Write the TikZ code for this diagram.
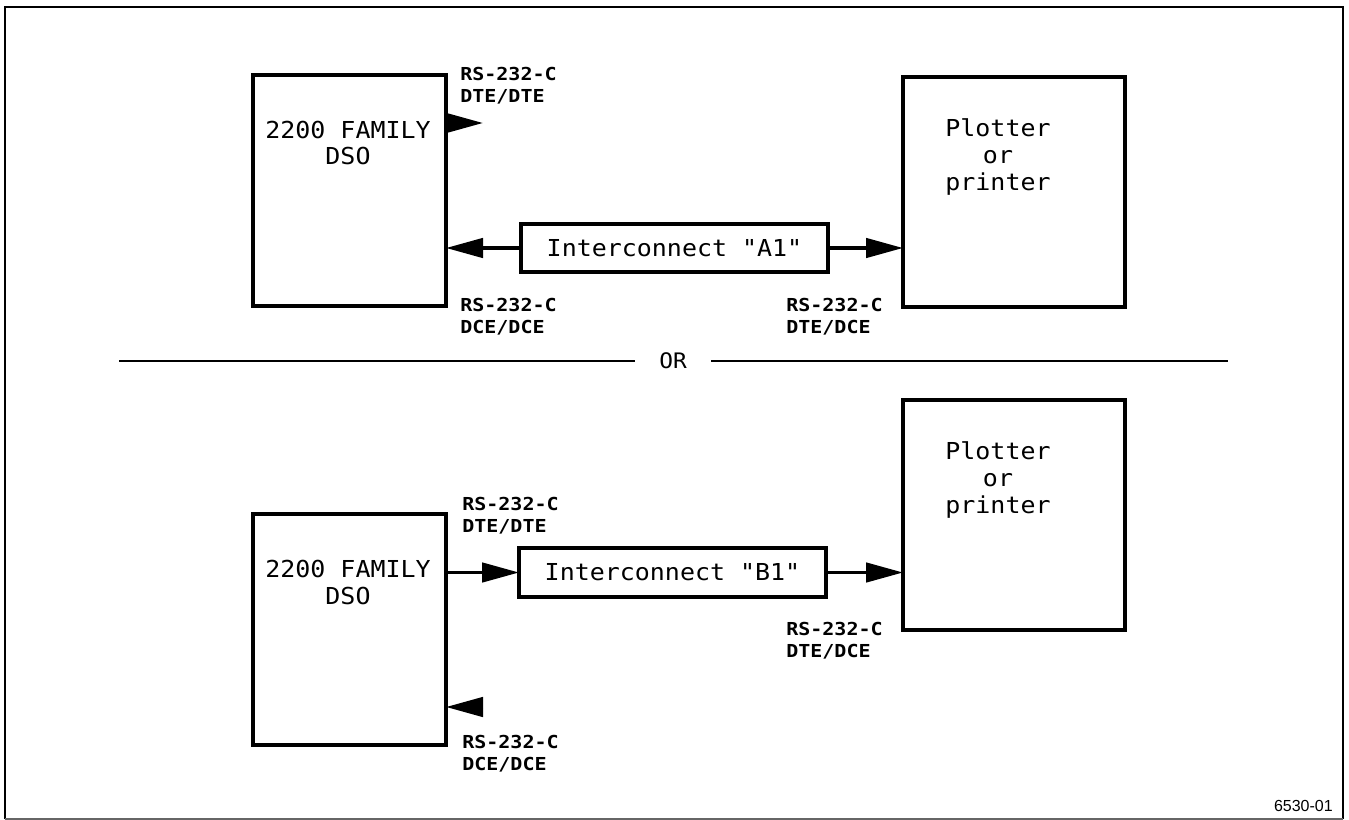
\documentclass[tikz,border=0pt]{standalone}
\usepackage{fontspec}
\setmainfont{Liberation Sans}
\newfontfamily\mainfnt[FakeStretch=1.07]{DejaVu Sans Mono}
\newfontfamily\labfnt[FakeStretch=1.12]{DejaVu Sans Mono Bold}
\usetikzlibrary{arrows.meta}
\begin{document}
\begin{tikzpicture}[x=0.75pt,y=-0.75pt,
  box/.style={draw, line width=2.7pt, inner sep=0pt, outer sep=0pt},
  big/.style={font=\mainfnt\fontsize{17.5}{20}\selectfont, align=center, inner sep=0pt},
  lab/.style={font=\labfnt\fontsize{13.4}{16.5}\selectfont, align=left, anchor=west, inner sep=0pt},
  conn/.style={line width=2.7pt, -{Triangle[length=27.75pt,width=14.5pt]}},
  frame/.style={line width=2pt}
]
\useasboundingbox (0,0) rectangle (1349,820);
% frame
\coordinate (f1) at (5,7);
\coordinate (f2) at (1343,7);
\coordinate (f3) at (1343,819);
\coordinate (f4) at (5,819);
\draw[frame] (f4) -- (f1) -- (f2) -- (f3);
\draw[line width=1pt, black!60] (f4) -- (f3);

% ---------- upper section ----------
\node[box, minimum width=144.75pt, minimum height=173.25pt] (dso1) at (349.5,190.5) {};
\node[big] (dso1t) at (348,143) {2200 FAMILY\\DSO};
\node[box, minimum width=166.5pt, minimum height=172.5pt] (plot1) at (1014,192) {};
\node[big] (plot1t) at (998,157) {Plotter\\or\\printer};
\node[box, minimum width=230.25pt, minimum height=36pt, font=\mainfnt\fontsize{17.5}{20}\selectfont] (A1) at (674.5,248) {Interconnect "A1"};

\coordinate (t1) at (483,123);
\draw[conn] (t1 -| dso1.east) -- (t1);
\draw[conn] (A1.west) -- (A1.west -| dso1.east);
\draw[conn] (A1.east) -- (A1.east -| plot1.west);

\node[lab] (l1) at (460,86) {RS-232-C\\DTE/DTE};
\node[lab] (l2) at (460,316.5) {RS-232-C\\DCE/DCE};
\node[lab] (l3) at (786,316.5) {RS-232-C\\DTE/DCE};

% ---------- OR ----------
\node[font=\mainfnt\fontsize{16}{18}\selectfont, inner xsep=18pt, inner ysep=0pt] (or) at (673,361) {OR};
\coordinate (orl) at (119,361);
\coordinate (orr) at (1228,361);
\draw[line width=1.3pt] (orl) -- (or.west);
\draw[line width=1.3pt] (or.east) -- (orr);

% ---------- lower section ----------
\node[box, minimum width=144.75pt, minimum height=173.25pt] (dso2) at (349.5,629.5) {};
\node[big] (dso2t) at (348,582.5) {2200 FAMILY\\DSO};
\node[box, minimum width=166.5pt, minimum height=172.5pt] (plot2) at (1014,515) {};
\node[big] (plot2t) at (998,480) {Plotter\\or\\printer};
\node[box, minimum width=230.25pt, minimum height=36.75pt, font=\mainfnt\fontsize{17.5}{20}\selectfont] (B1) at (672.5,572.5) {Interconnect "B1"};

\draw[conn] (dso2.east |- B1.west) -- (B1.west);
\draw[conn] (B1.east) -- (B1.east -| plot2.west);
\coordinate (t2) at (483,707);
\draw[conn] (t2) -- (t2 -| dso2.east);

\node[lab] (l4) at (462,516) {RS-232-C\\DTE/DTE};
\node[lab] (l5) at (786,641) {RS-232-C\\DTE/DCE};
\node[lab] (l6) at (462,754) {RS-232-C\\DCE/DCE};

\node[font=\fontsize{12}{14}\selectfont, anchor=east, inner sep=0pt] (num) at (1333,806) {6530-01};
\end{tikzpicture}
\end{document}
